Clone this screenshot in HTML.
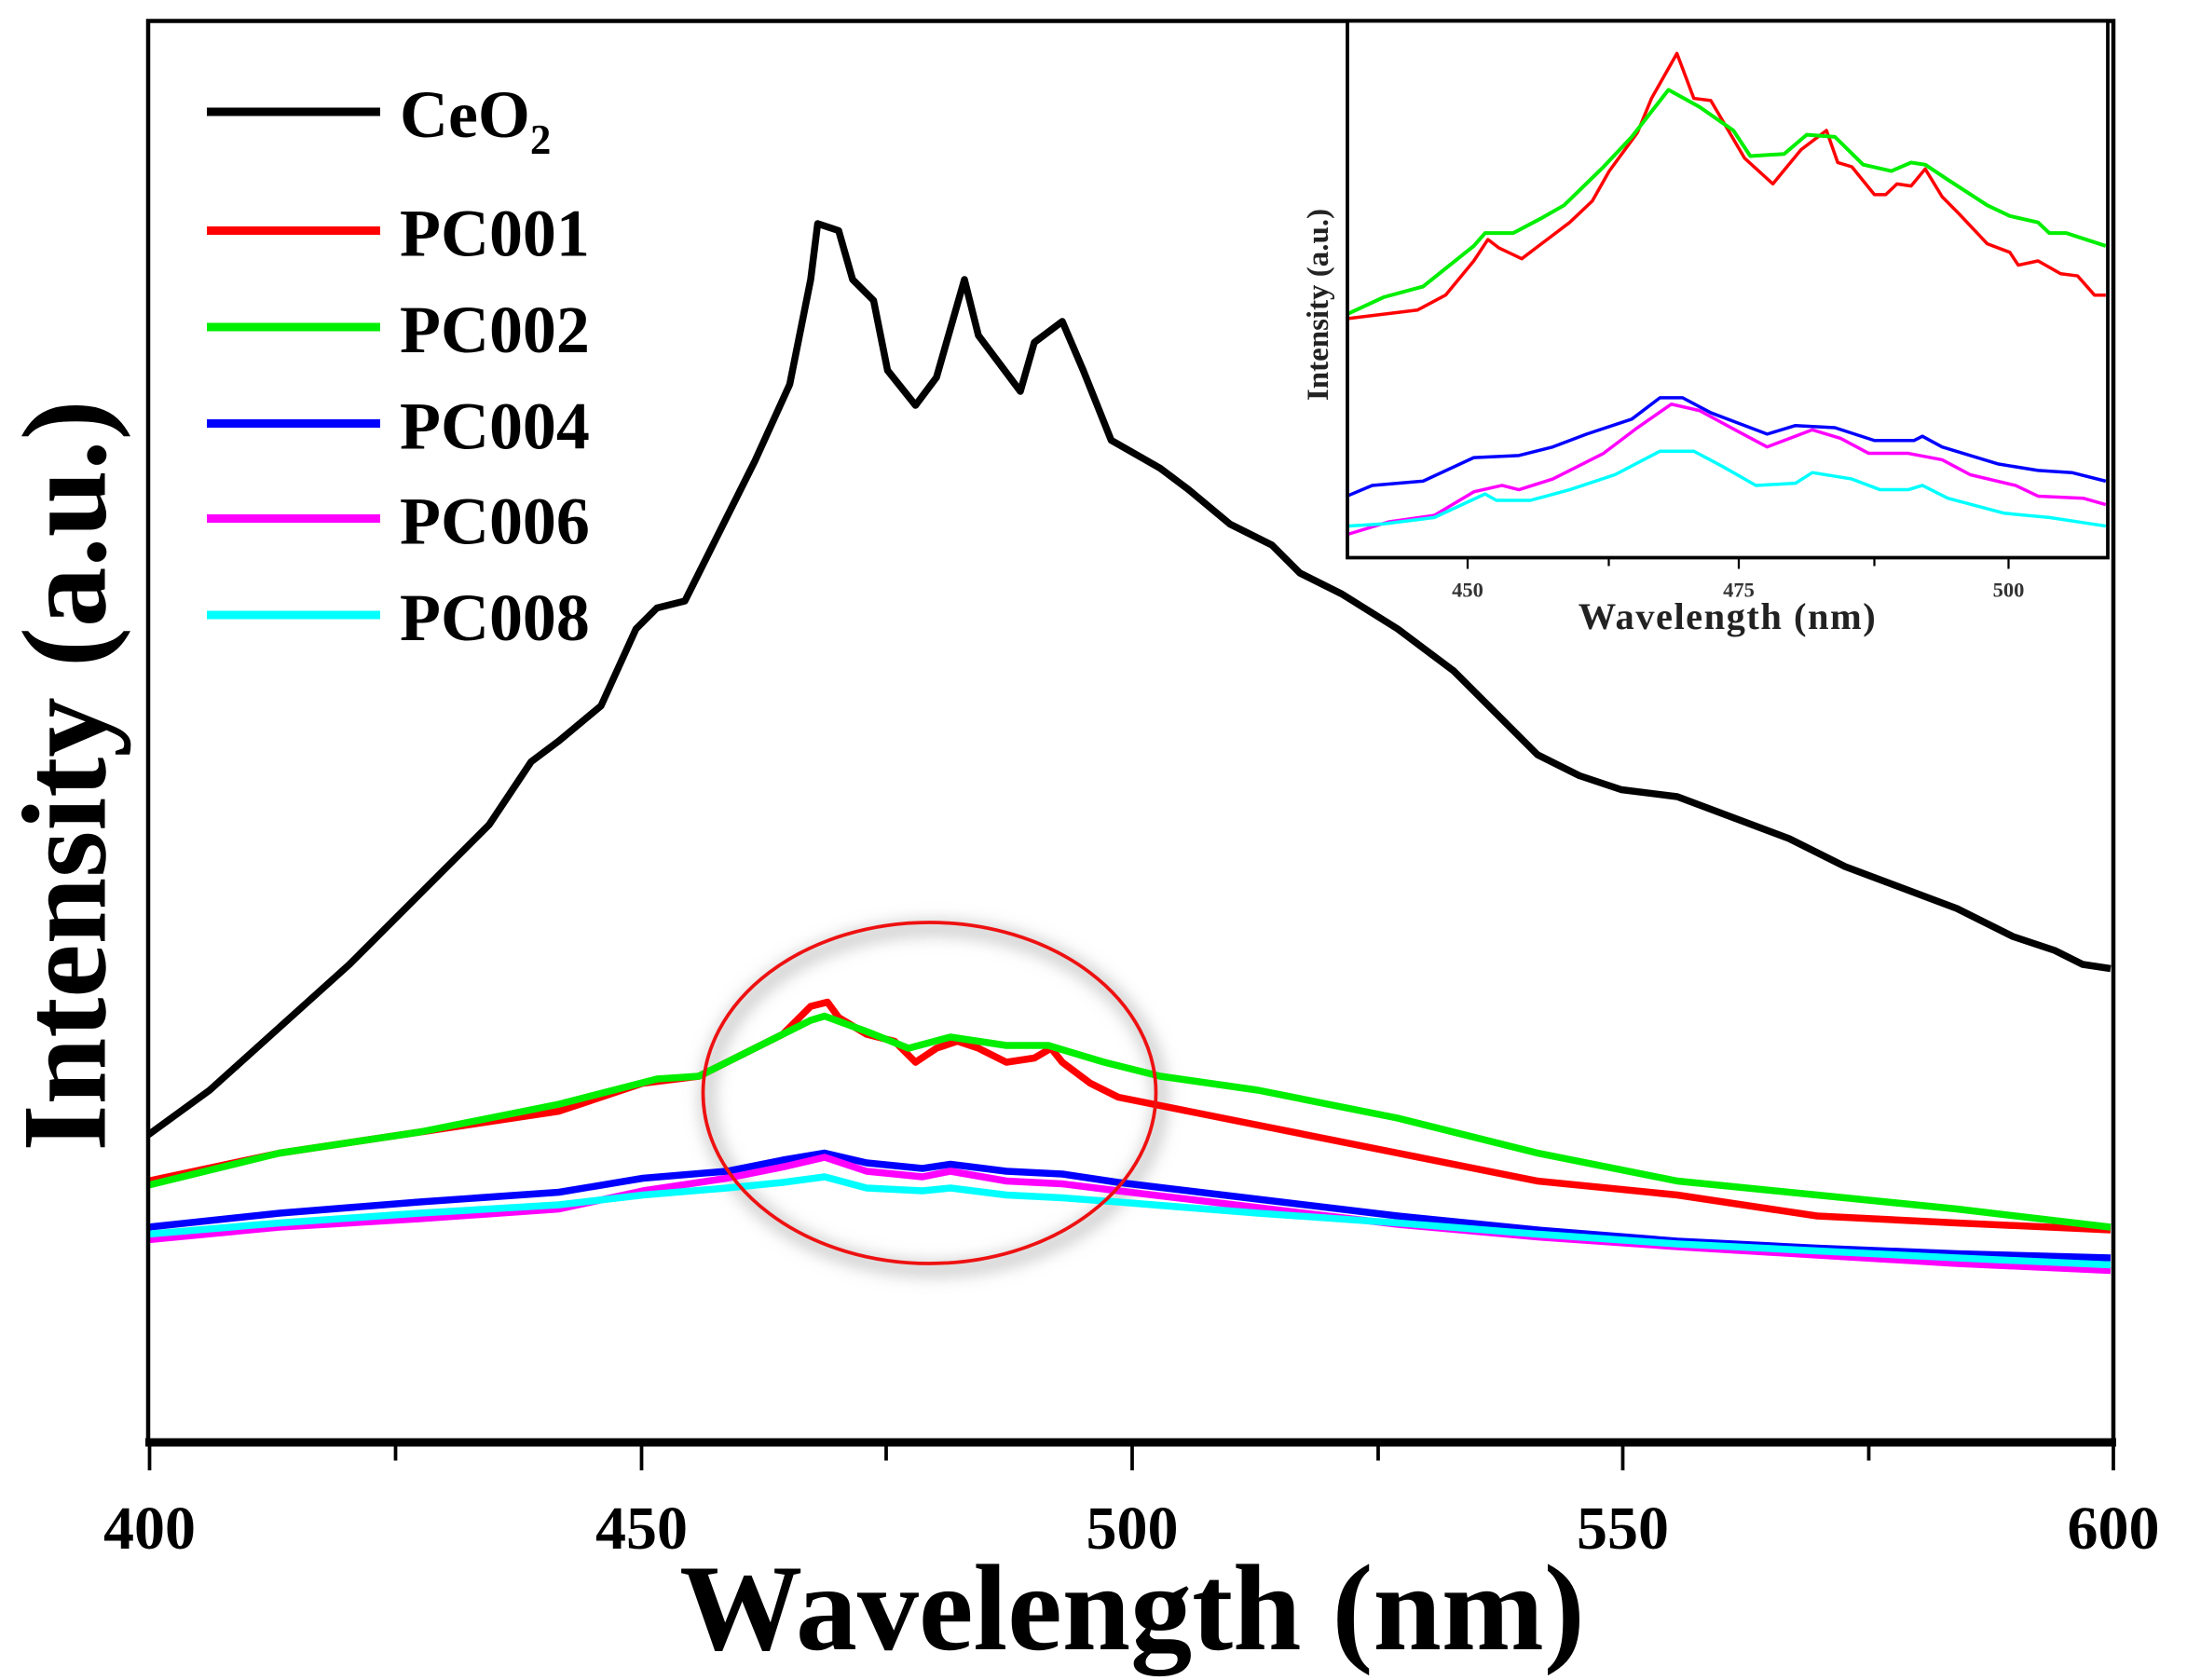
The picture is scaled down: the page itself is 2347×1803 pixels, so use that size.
<!DOCTYPE html>
<html><head><style>html,body{margin:0;padding:0;background:#fff}svg{display:block}</style></head><body>
<svg width="2347" height="1803" viewBox="0 0 1564.67 1202" xmlns="http://www.w3.org/2000/svg" font-family="Liberation Serif, serif" font-weight="bold">
<defs><filter id="sh" x="-20%" y="-20%" width="140%" height="140%"><feGaussianBlur stdDeviation="6"/></filter></defs>
<ellipse cx="668" cy="786" rx="162" ry="122" fill="none" stroke="#bbb" stroke-width="8" filter="url(#sh)"/>
<g fill="none" stroke-linejoin="round" stroke-width="5">
<polyline stroke="#000" points="106,812 150,780 200,735 250,690 300,640 350,590 380,545 400,530 430,505 455,450 470,435 490,430 510,390 540,330 565,275 580,200 585,160 600,165 610,200 625,215 635,265 655,290 670,270 690,200 700,240 715,260 730,280 740,245 760,230 775,265 795,315 830,335 850,350 880,375 910,390 930,410 960,425 1000,450 1040,480 1070,510 1100,540 1130,555 1160,565 1200,570 1240,585 1280,600 1320,620 1360,635 1400,650 1440,670 1470,680 1490,690 1510,693"/>
<polyline stroke="#ff0000" points="106,845 200,825 300,810 400,795 460,775 500,770 530,755 560,740 580,720 592,717 600,728 620,740 640,745 655,760 670,750 685,745 700,750 720,760 740,757 752,750 760,760 780,775 800,785 850,795 900,805 1000,825 1100,845 1200,855 1300,870 1400,875 1510,880"/>
<polyline stroke="#00ee00" points="106,848 200,825 300,810 400,790 470,772 500,770 540,750 580,730 590,727 620,738 650,750 680,742 720,748 750,748 790,760 830,770 900,780 1000,800 1100,825 1200,845 1300,855 1400,865 1510,878"/>
<polyline stroke="#0000ff" points="106,878 200,868 300,860 400,853 460,843 520,838 560,830 590,825 620,832 660,836 680,833 720,838 760,840 800,846 900,858 1000,870 1100,880 1200,888 1300,893 1400,897 1510,900"/>
<polyline stroke="#ff00ff" points="106,887 200,878 300,872 400,865 460,852 520,843 560,835 590,828 620,838 660,842 680,838 720,845 760,847 800,852 900,864 1000,876 1100,885 1200,892 1300,898 1400,904 1510,909"/>
<polyline stroke="#00ffff" points="106,883 200,875 300,868 400,862 460,855 520,850 560,846 590,842 620,850 660,852 680,850 720,855 760,857 800,860 900,868 1000,875 1100,883 1200,890 1300,895 1400,900 1510,905"/>
</g>
<ellipse cx="665" cy="782" rx="162" ry="122" fill="none" stroke="#ee1111" stroke-width="2.5"/>
<rect x="106" y="15" width="1406" height="1017" fill="none" stroke="#000" stroke-width="3"/>
<line x1="104" y1="1032" x2="1514" y2="1032" stroke="#000" stroke-width="6"/>
<g stroke="#000" stroke-width="2.5">
<line x1="107" y1="1032" x2="107" y2="1052"/><line x1="459" y1="1032" x2="459" y2="1052"/><line x1="810" y1="1032" x2="810" y2="1052"/><line x1="1161" y1="1032" x2="1161" y2="1052"/><line x1="1512" y1="1032" x2="1512" y2="1052"/>
<line x1="283" y1="1032" x2="283" y2="1045"/><line x1="634" y1="1032" x2="634" y2="1045"/><line x1="986" y1="1032" x2="986" y2="1045"/><line x1="1337" y1="1032" x2="1337" y2="1045"/>
</g>
<g font-size="44" text-anchor="middle">
<text x="107" y="1108">400</text><text x="459" y="1108">450</text><text x="810" y="1108">500</text><text x="1161" y="1108">550</text><text x="1512" y="1108">600</text>
</g>
<text x="810" y="1180" font-size="88" text-anchor="middle">Wavelength (nm)</text>
<text transform="translate(75,555) rotate(-90)" font-size="86" text-anchor="middle">Intensity (a.u.)</text>
<g stroke-width="6">
<line x1="148" y1="80" x2="272" y2="80" stroke="#000"/>
<line x1="148" y1="165" x2="272" y2="165" stroke="#ff0000"/>
<line x1="148" y1="234" x2="272" y2="234" stroke="#00ee00"/>
<line x1="148" y1="303" x2="272" y2="303" stroke="#0000ff"/>
<line x1="148" y1="371" x2="272" y2="371" stroke="#ff00ff"/>
<line x1="148" y1="440" x2="272" y2="440" stroke="#00ffff"/>
</g>
<g font-size="48">
<text x="286" y="98">CeO<tspan font-size="30" dy="12">2</tspan></text>
<text x="286" y="183">PC001</text><text x="286" y="252">PC002</text><text x="286" y="321">PC004</text><text x="286" y="389">PC006</text><text x="286" y="458">PC008</text>
</g>
<rect x="964" y="15" width="544" height="384" fill="#fff" stroke="none"/>
<g transform="translate(933.3,0) scale(0.4037,0.306)" fill="none" stroke-linejoin="round">
<polyline vector-effect="non-scaling-stroke" stroke-width="3.5" stroke="#ff0000" points="75,745 200,725 250,690 300,610 325,560 345,580 385,605 470,520 510,470 540,400 590,310 615,230 660,125 690,230 720,235 780,370 830,430 880,350 925,305 945,380 970,390 1010,455 1030,455 1050,430 1075,435 1100,395 1130,460 1160,500 1210,570 1250,590 1265,620 1300,610 1340,640 1370,645 1400,690 1420,690"/>
<polyline vector-effect="non-scaling-stroke" stroke-width="4" stroke="#00ee00" points="75,735 140,695 210,670 300,575 320,545 370,545 420,510 460,480 530,390 580,320 645,210 700,250 760,305 790,365 850,360 890,315 940,320 990,385 1040,400 1075,380 1100,385 1140,420 1210,480 1250,505 1300,520 1320,545 1350,545 1420,575"/>
<polyline vector-effect="non-scaling-stroke" stroke-width="3.5" stroke="#0000ff" points="75,1160 120,1135 210,1125 300,1070 380,1065 440,1045 500,1015 580,980 630,930 670,930 720,965 760,985 820,1015 870,995 940,1000 1010,1030 1080,1030 1095,1020 1130,1045 1230,1085 1300,1100 1360,1105 1420,1125"/>
<polyline vector-effect="non-scaling-stroke" stroke-width="3.5" stroke="#ff00ff" points="75,1250 150,1220 230,1205 300,1150 350,1135 380,1145 440,1120 530,1060 590,1000 650,945 700,960 770,1010 820,1045 900,1005 950,1025 1000,1060 1070,1060 1130,1075 1180,1110 1260,1135 1300,1160 1380,1165 1420,1180"/>
<polyline vector-effect="non-scaling-stroke" stroke-width="3.5" stroke="#00ffff" points="75,1230 140,1225 230,1210 320,1155 340,1170 400,1170 470,1145 550,1110 630,1055 690,1055 740,1090 800,1135 870,1130 900,1105 970,1120 1020,1145 1070,1145 1095,1135 1140,1165 1240,1200 1320,1210 1420,1230"/>
</g>
<rect x="964" y="15" width="544" height="384" fill="none" stroke="#000" stroke-width="2.5"/>
<g stroke="#000" stroke-width="1.5">
<line x1="1050" y1="399" x2="1050" y2="407"/><line x1="1151" y1="399" x2="1151" y2="405"/><line x1="1244" y1="399" x2="1244" y2="407"/><line x1="1341" y1="399" x2="1341" y2="405"/><line x1="1437" y1="399" x2="1437" y2="407"/>
</g>
<g font-size="15" text-anchor="middle" fill="#333">
<text x="1050" y="427">450</text><text x="1244" y="427">475</text><text x="1437" y="427">500</text>
</g>
<text x="1236" y="450" font-size="27" text-anchor="middle" fill="#222" letter-spacing="1">Wavelength (nm)</text>
<text transform="translate(950,218) rotate(-90)" font-size="22" text-anchor="middle" fill="#222">Intensity (a.u.)</text>
</svg>
</body></html>
